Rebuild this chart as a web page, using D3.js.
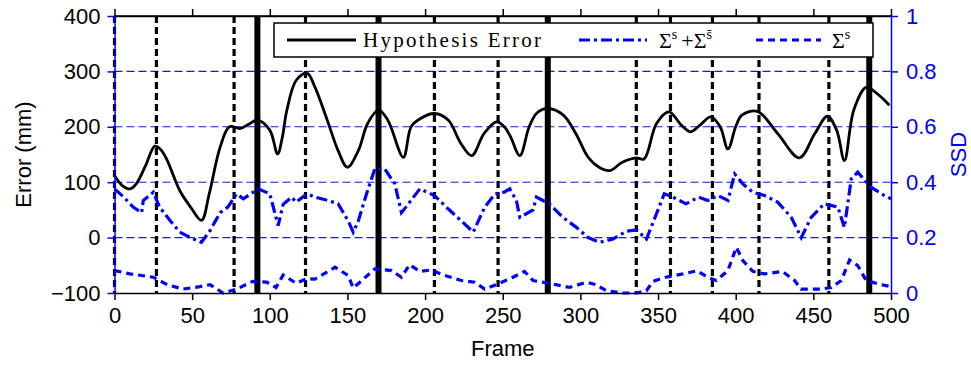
<!DOCTYPE html>
<html>
<head>
    <meta charset="UTF-8">
    <script src="https://d3js.org/d3.v7.min.js"></script>
    <style type="text/css">
        body { margin: 0; background: #fff; }
        text { font-family: "Liberation Sans", Arial, sans-serif; }
        .legend-text { font-family: "Liberation Serif", "DejaVu Serif", serif; }
    </style>
</head>
<body>
<script type="text/javascript">
    // Hypothesis error (mm), left axis
    var errFrames = [0, 5, 10, 14, 20, 26, 30, 34, 42, 49, 56, 61, 68, 74, 81, 86, 92, 100, 105, 108, 111, 117, 124,
        129, 137, 144, 150, 157, 163, 170, 176, 186, 191, 197, 206, 215, 223, 230, 238, 246, 251, 255, 261, 267, 272,
        279, 289, 297, 305, 312, 319, 327, 336, 341, 349, 357, 365, 371, 377, 384, 390, 395, 400, 404, 414, 427, 441,
        451, 459, 465, 470, 476, 484, 491, 499];
    var errValues = [112, 94, 88, 97, 130, 165, 158, 139, 85, 55, 31, 79, 163, 200, 197, 204, 212, 194, 151, 180, 230, 284, 297,
        272, 212, 157, 127, 157, 206, 230, 212, 145, 200, 215, 224, 212, 170, 148, 188, 209, 200, 182, 148, 200, 225,
        233, 221, 188, 145, 127, 121, 136, 144, 142, 206, 227, 203, 191, 203, 218, 200, 160, 200, 221, 228, 188, 144,
        188, 219, 194, 139, 230, 271, 260, 239];

    // Sigma^s + Sigma^s-bar (SSD), right axis
    var sumFrames = [0, 6, 12, 17.5, 18.5, 25, 29, 36, 42, 49, 56, 61.5, 68, 73, 78.6, 83, 92.5, 100, 105.4, 108.6, 114,
        117, 124, 129, 137.6, 144, 150.5, 153.7, 157, 162.3, 167.6, 174, 180.5, 184.8, 189, 196.6, 206, 214.8, 223.4,
        231, 238.4, 245, 251, 254.5, 258.8, 261, 269.5, 271.7, 280, 288.8, 297.4, 305, 312.4, 321, 329.6, 336, 342.5,
        349, 354, 359.6, 368, 376, 382, 388.6, 395, 399.3, 404.6, 411, 418.6, 427, 435.8, 442.2, 448.6, 457, 465.8,
        470, 474.4, 478.6, 487, 495.8, 500];
    var sumValues = [0.376, 0.346, 0.31, 0.29, 0.334, 0.364, 0.31, 0.26, 0.22, 0.2, 0.183, 0.225, 0.29, 0.31, 0.358, 0.34,
        0.376, 0.358, 0.243, 0.32, 0.346, 0.328, 0.358, 0.346, 0.334, 0.322, 0.26, 0.22, 0.26, 0.358, 0.448, 0.448,
        0.394, 0.29, 0.32, 0.376, 0.352, 0.304, 0.26, 0.22, 0.31, 0.358, 0.364, 0.376, 0.334, 0.273, 0.3, 0.346,
        0.322, 0.273, 0.237, 0.2, 0.183, 0.195, 0.223, 0.228, 0.195, 0.286, 0.358, 0.346, 0.322, 0.346, 0.334, 0.352,
        0.334, 0.43, 0.394, 0.364, 0.352, 0.328, 0.273, 0.2, 0.273, 0.322, 0.31, 0.237, 0.412, 0.436, 0.382, 0.352,
        0.34];

    // Sigma^s (SSD), right axis
    var sFrames = [0, 10, 25, 34, 44, 55, 61.5, 70, 78.6, 89, 98, 104, 108.6, 117, 124, 129, 142, 150.5, 153.7, 158,
        167.6, 178.4, 184.8, 190, 196.6, 204, 212.7, 223.4, 232, 238.4, 247, 256.6, 264, 269.5, 280, 293, 304, 310,
        316.7, 327, 336, 342.5, 346.7, 355, 366, 375, 382, 387.5, 395, 400.4, 404.6, 411, 418.6, 430, 438, 442, 455,
        461.5, 468, 473.3, 478.6, 484, 491.5, 499];
    var sValues = [0.081, 0.069, 0.057, 0.03, 0.014, 0.023, 0.03, 0.0, 0.014, 0.042, 0.039, 0.02, 0.065, 0.035, 0.052,
        0.05, 0.093, 0.063, 0.018, 0.039, 0.087, 0.081, 0.057, 0.102, 0.078, 0.083, 0.063, 0.045, 0.039, 0.014, 0.033,
        0.057, 0.078, 0.045, 0.035, 0.02, 0.039, 0.03, 0.008, 0, 0, 0.008, 0.042, 0.057, 0.069, 0.08, 0.057, 0.045,
        0.081, 0.165, 0.117, 0.078, 0.069, 0.078, 0.045, 0.014, 0.014, 0.02, 0.045, 0.119, 0.099, 0.045, 0.033, 0.024];

    // marker frames
    var dashedMarks = [0, 27, 77, 123, 206, 247, 336, 358, 385, 415, 460];
    var thickMarks = [92, 170, 279, 486];

    var xTicks = [0, 50, 100, 150, 200, 250, 300, 350, 400, 450, 500];
    var errTicks = [-100, 0, 100, 200, 300, 400];
    var ssdTicks = [0, 0.2, 0.4, 0.6, 0.8, 1];

    var W = 971, H = 366;
    var pLeft = 114.5, pRight = 891, pTop = 16, pBottom = 293;

    var svg = d3.select("body").append("svg")
        .attr("width", W)
        .attr("height", H);

    var x = d3.scaleLinear().domain([0, 500]).range([pLeft, pRight]);
    var yErr = d3.scaleLinear().domain([-100, 400]).range([pBottom, pTop]);
    var ySsd = d3.scaleLinear().domain([0, 1]).range([pBottom, pTop]);

    // horizontal grid (blue dashed)
    svg.append("g").selectAll("line")
        .data([0.2, 0.4, 0.6, 0.8])
        .enter().append("line")
        .attr("x1", pLeft).attr("x2", pRight)
        .attr("y1", function (d) { return ySsd(d); })
        .attr("y2", function (d) { return ySsd(d); })
        .attr("stroke", "#1a1ad6")
        .attr("stroke-width", 1.1)
        .attr("stroke-dasharray", "8,4");

    // vertical markers
    svg.append("g").selectAll("line")
        .data(dashedMarks)
        .enter().append("line")
        .attr("x1", function (d) { return x(d); })
        .attr("x2", function (d) { return x(d); })
        .attr("y1", pTop).attr("y2", pBottom)
        .attr("stroke", "#000")
        .attr("stroke-width", 3.2)
        .attr("stroke-dasharray", "7,4");

    svg.append("g").selectAll("line")
        .data(thickMarks)
        .enter().append("line")
        .attr("x1", function (d) { return x(d); })
        .attr("x2", function (d) { return x(d); })
        .attr("y1", pTop).attr("y2", pBottom)
        .attr("stroke", "#000")
        .attr("stroke-width", 6);

    // series
    var errLine = d3.line()
        .x(function (d, i) { return x(errFrames[i]); })
        .y(function (d) { return yErr(d); })
        .curve(d3.curveCatmullRom);

    var sumLine = d3.line()
        .x(function (d, i) { return x(sumFrames[i]); })
        .y(function (d) { return ySsd(d); });

    var sLine = d3.line()
        .x(function (d, i) { return x(sFrames[i]); })
        .y(function (d) { return ySsd(d); });

    svg.append("path")
        .datum(sumValues)
        .attr("fill", "none")
        .attr("stroke", "#0000ff")
        .attr("stroke-width", 3.2)
        .attr("stroke-dasharray", "11,4,3,4")
        .attr("d", sumLine);

    svg.append("path")
        .datum(sValues)
        .attr("fill", "none")
        .attr("stroke", "#0000ff")
        .attr("stroke-width", 3.2)
        .attr("stroke-dasharray", "7,5")
        .attr("d", sLine);

    svg.append("path")
        .datum(errValues)
        .attr("fill", "none")
        .attr("stroke", "#000")
        .attr("stroke-width", 2.8)
        .attr("d", errLine);

    // top border
    svg.append("line").attr("x1", pLeft).attr("x2", pRight).attr("y1", pTop).attr("y2", pTop)
        .attr("stroke", "#000").attr("stroke-width", 1.5);

    // axes
    var bottomAxis = svg.append("g")
        .attr("transform", "translate(0," + pBottom + ")")
        .call(d3.axisBottom(x).tickValues(xTicks).tickSize(7).tickSizeOuter(0));
    bottomAxis.selectAll("path, line").attr("stroke", "#000").attr("stroke-width", 1.5);
    bottomAxis.selectAll("text").attr("font-size", 22).attr("font-family", "Liberation Sans")
        .attr("fill", "#000").attr("y", 14);

    var topAxis = svg.append("g")
        .attr("transform", "translate(0," + pTop + ")")
        .call(d3.axisTop(x).tickValues(xTicks).tickSize(7).tickSizeOuter(0).tickFormat(""));
    topAxis.selectAll("path, line").attr("stroke", "#000").attr("stroke-width", 1.5);

    var leftAxis = svg.append("g")
        .attr("transform", "translate(" + pLeft + ",0)")
        .call(d3.axisLeft(yErr).tickValues(errTicks).tickSize(7).tickSizeOuter(0)
            .tickFormat(function (d) { return d < 0 ? "\u2212" + Math.abs(d) : d; }));
    leftAxis.selectAll("path, line").attr("stroke", "#0000ff").attr("stroke-width", 1.5);
    leftAxis.selectAll("text").attr("font-size", 22).attr("font-family", "Liberation Sans")
        .attr("fill", "#000").attr("x", -14);

    var rightAxis = svg.append("g")
        .attr("transform", "translate(" + pRight + ",0)")
        .call(d3.axisRight(ySsd).tickValues(ssdTicks).tickSize(7).tickSizeOuter(0)
            .tickFormat(function (d) { return d === 0 || d === 1 ? d : d.toFixed(1); }));
    rightAxis.selectAll("path, line").attr("stroke", "#0000ff").attr("stroke-width", 1.5);
    rightAxis.selectAll("text").attr("font-size", 22).attr("font-family", "Liberation Sans")
        .attr("fill", "#0000ff").attr("x", 15);

    // axis labels
    svg.append("text")
        .attr("transform", "translate(31," + ((pTop + pBottom) / 2) + ") rotate(-90)")
        .attr("text-anchor", "middle")
        .attr("font-size", 22)
        .text("Error (mm)");

    svg.append("text")
        .attr("transform", "translate(966," + ((pTop + pBottom) / 2) + ") rotate(-90)")
        .attr("text-anchor", "middle")
        .attr("font-size", 22)
        .attr("fill", "#0000ff")
        .text("SSD");

    svg.append("text")
        .attr("x", (pLeft + pRight) / 2)
        .attr("y", 356)
        .attr("text-anchor", "middle")
        .attr("font-size", 22)
        .text("Frame");

    // legend
    var lg = svg.append("g");
    lg.append("rect")
        .attr("x", 274).attr("y", 23).attr("width", 599).attr("height", 34)
        .attr("fill", "#fff").attr("stroke", "#000").attr("stroke-width", 1.5);

    lg.append("line").attr("x1", 287).attr("x2", 356).attr("y1", 40).attr("y2", 40)
        .attr("stroke", "#000").attr("stroke-width", 2.8);
    lg.append("text")
        .attr("class", "legend-text")
        .attr("x", 363).attr("y", 47)
        .attr("font-size", 21)
        .attr("textLength", 178)
        .attr("lengthAdjust", "spacing")
        .text("Hypothesis Error");

    lg.append("line").attr("x1", 579).attr("x2", 647).attr("y1", 40).attr("y2", 40)
        .attr("stroke", "#0000ff").attr("stroke-width", 3.2).attr("stroke-dasharray", "11,4,3,4");
    var t2 = lg.append("text")
        .attr("class", "legend-text")
        .attr("x", 659).attr("y", 48)
        .attr("font-size", 22);
    t2.append("tspan").text("\u03A3");
    t2.append("tspan").attr("font-size", 14).attr("dy", -9).text("s");
    t2.append("tspan").attr("dy", 9).attr("dx", 4).text("+");
    t2.append("tspan").text("\u03A3");
    t2.append("tspan").attr("font-size", 14).attr("dy", -9).text("s\u0304");

    lg.append("line").attr("x1", 756).attr("x2", 821).attr("y1", 40).attr("y2", 40)
        .attr("stroke", "#0000ff").attr("stroke-width", 3.2).attr("stroke-dasharray", "7,5");
    var t3 = lg.append("text")
        .attr("class", "legend-text")
        .attr("x", 832).attr("y", 48)
        .attr("font-size", 22);
    t3.append("tspan").text("\u03A3");
    t3.append("tspan").attr("font-size", 14).attr("dy", -9).text("s");
</script>
</body>
</html>
